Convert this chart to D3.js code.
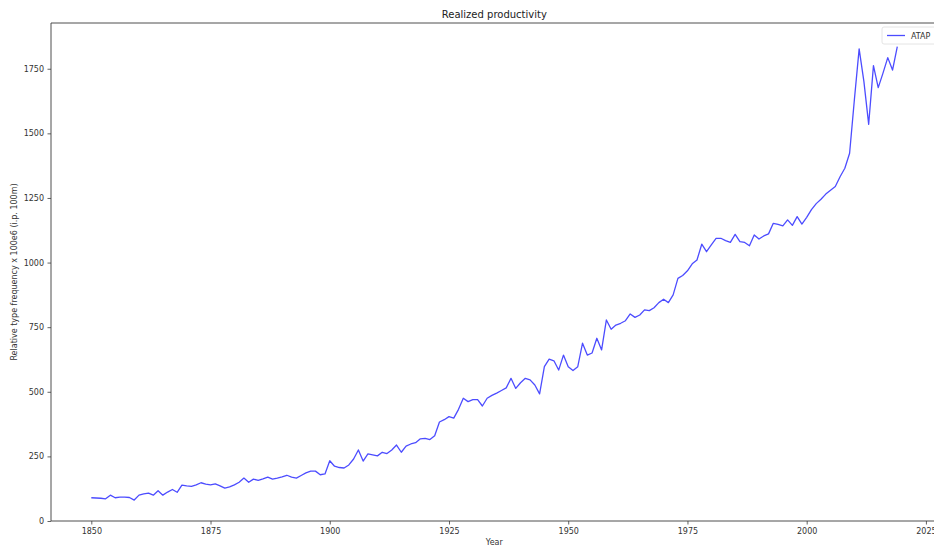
<!DOCTYPE html>
<html>
<head>
<meta charset="utf-8">
<script src="https://cdn.jsdelivr.net/npm/d3@7"></script>
<style>
  html, body { margin: 0; padding: 0; background: #fff; }
  svg { display: block; font-family: "DejaVu Sans", sans-serif; }
</style>
</head>
<body>
<svg id="chart" width="934" height="546"></svg>
<script>
// Yearly values, 1850–2019
const startYear = 1850;
const atapValues = [
  90, 89, 88, 86, 100, 90, 92, 92, 91, 81,
  100, 105, 108, 100, 117, 100, 112, 122, 111, 139,
  136, 134, 140, 148, 143, 140, 144, 136, 127, 132,
  140, 150, 166, 150, 162, 157, 163, 170, 162, 166,
  171, 177, 170, 166, 176, 186, 193, 193, 179, 182,
  233, 212, 207, 205, 217, 240, 275, 232, 260, 256,
  252, 266, 261, 275, 294, 266, 290, 298, 303, 318,
  320, 315, 330, 383, 392, 404, 398, 432, 475, 462,
  470, 470, 445, 475, 486, 495, 505, 515, 552, 513,
  535, 552, 546, 526, 492, 597, 626, 620, 584, 642,
  597, 582, 597, 688, 642, 650, 707, 662, 778, 742,
  758, 765, 775, 801, 788, 797, 817, 814, 825, 845,
  858, 845, 875, 939, 950, 968, 995, 1010, 1071, 1042,
  1068, 1094, 1094, 1085, 1078, 1109, 1081, 1078, 1065, 1107,
  1091, 1103, 1111, 1152, 1148, 1142, 1165, 1144, 1178, 1149,
  1175, 1205, 1228, 1245, 1265, 1280, 1294, 1332, 1365, 1423,
  1630, 1827, 1700, 1535, 1762, 1677, 1733, 1793, 1745, 1836
];
const years = atapValues.map((_, i) => startYear + i);
const xTicks = [1850, 1875, 1900, 1925, 1950, 1975, 2000, 2025];
const yTicks = [0, 250, 500, 750, 1000, 1250, 1500, 1750];
const seriesName = "ATAP";
const titleText = "Realized productivity";
const xLabelText = "Year";
const yLabelText = "Relative type frequency x 100e6 (i.p. 100m)";

const svg = d3.select("#chart");
const plotLeft = 51, plotTop = 23, plotRight = 937.6, plotBottom = 521;

// matplotlib-style 5% margins on x; y starts at zero
const xMin = d3.min(years), xMax = d3.max(years);
const xPad = (xMax - xMin) * 0.05;
const x = d3.scaleLinear().domain([xMin - xPad, xMax + xPad]).range([plotLeft, plotRight]);
const y = d3.scaleLinear().domain([0, 1927]).range([plotBottom, plotTop]);

const axisColor = "#3a3a3a";

// line
const line = d3.line().x((d, i) => x(years[i])).y(d => y(d));
svg.append("path")
  .datum(atapValues)
  .attr("d", line)
  .attr("fill", "none")
  .attr("stroke", "#0000ff")
  .attr("stroke-opacity", 0.7)
  .attr("stroke-width", 1.3)
  .attr("stroke-linejoin", "round");

// x axis
const xAxis = svg.append("g")
  .attr("transform", `translate(0,${plotBottom})`)
  .call(d3.axisBottom(x).tickValues(xTicks).tickFormat(d3.format("d")).tickSize(3.5).tickPadding(3.5));
// y axis
const yAxis = svg.append("g")
  .attr("transform", `translate(${plotLeft},0)`)
  .call(d3.axisLeft(y).tickValues(yTicks).tickFormat(d3.format("d")).tickSize(3.5).tickPadding(3.5));

[xAxis, yAxis].forEach(g => {
  g.select(".domain").remove();
  g.selectAll(".tick line").attr("stroke", axisColor).attr("stroke-width", 0.8);
  g.selectAll(".tick text").attr("fill", "#333").attr("font-size", 8)
    .attr("font-family", "DejaVu Sans, sans-serif");
});

// spines
const spines = [
  [plotLeft, plotTop, plotLeft, plotBottom],
  [plotLeft, plotBottom, plotRight, plotBottom],
  [plotLeft, plotTop, plotRight, plotTop],
  [plotRight, plotTop, plotRight, plotBottom]
];
svg.append("g").selectAll("line").data(spines).join("line")
  .attr("x1", d => d[0]).attr("y1", d => d[1])
  .attr("x2", d => d[2]).attr("y2", d => d[3])
  .attr("stroke", axisColor).attr("stroke-width", 0.9);

// title
svg.append("text")
  .attr("x", (plotLeft + plotRight) / 2).attr("y", 18)
  .attr("text-anchor", "middle")
  .attr("font-size", 10).attr("fill", "#222")
  .text(titleText);

// axis labels
svg.append("text")
  .attr("x", (plotLeft + plotRight) / 2).attr("y", 545)
  .attr("text-anchor", "middle")
  .attr("font-size", 8).attr("fill", "#333")
  .text(xLabelText);
svg.append("text")
  .attr("transform", `translate(17,${(plotTop + plotBottom) / 2}) rotate(-90)`)
  .attr("text-anchor", "middle")
  .attr("font-size", 8).attr("fill", "#333")
  .text(yLabelText);

// legend
const legend = svg.append("g").attr("transform", "translate(882,27)");
legend.append("rect")
  .attr("x", 0).attr("y", 0).attr("width", 60).attr("height", 17)
  .attr("rx", 2).attr("fill", "#fff").attr("stroke", "#ddd").attr("stroke-width", 0.8);
legend.append("line")
  .attr("x1", 5).attr("x2", 23).attr("y1", 8.5).attr("y2", 8.5)
  .attr("stroke", "#0000ff").attr("stroke-opacity", 0.7).attr("stroke-width", 1.3);
legend.append("text")
  .attr("x", 29).attr("y", 11.5)
  .attr("font-size", 8).attr("fill", "#333")
  .text(seriesName);
</script>
</body>
</html>
